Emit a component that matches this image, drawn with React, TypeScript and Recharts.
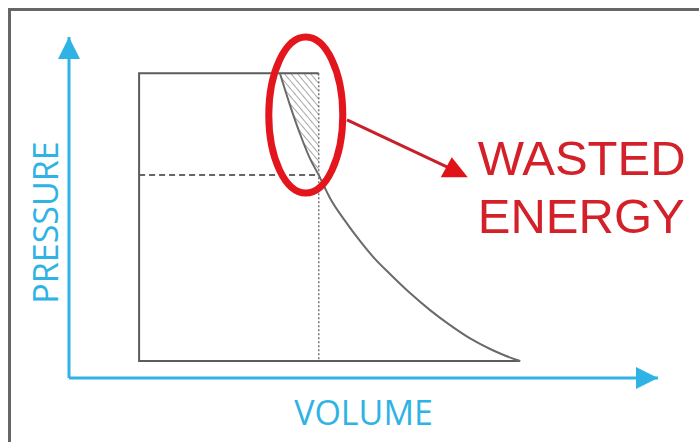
import React from 'react';
import { ComposedChart, XAxis, YAxis, Line, Area, ReferenceDot, ReferenceLine } from 'recharts';

// expansion curve (volume / pressure on a 0-100 scale)
const curveVolume = [35.8, 37.5, 39.2, 40.9, 42.4, 44.3, 46.9, 49.4, 51.9, 54.5, 57.9, 61.3, 64.7, 68.1, 71.5, 74.0, 76.6];
const curvePressure = [89.4, 80.1, 71.7, 64.4, 59.5, 52.8, 46.0, 40.2, 35.0, 30.5, 24.9, 19.9, 15.5, 11.6, 8.5, 6.6, 5.0];

// rest of the cycle outline: top, left side, bottom
const outlineVolume = [42.4, 11.9, 11.9, 76.6];
const outlinePressure = [89.4, 89.4, 5.0, 5.0];

const cutoffVolume = 42.4;
const cutoffPressure = 59.5;
const topPressure = 89.4;
const startVolume = 11.9;
const bottomPressure = 5.0;

const xLabel = 'VOLUME';
const yLabel = 'PRESSURE';
const annotationLines = ['WASTED', 'ENERGY'];

const CYAN = '#2fb3e4';
const RED = '#d42029';
const GRAY = '#5c5c5c';

const curveData = curveVolume.map((v, i) => ({ v, p: curvePressure[i] }));
const outlineData = outlineVolume.map((v, i) => ({ v, p: outlinePressure[i] }));
const hatchData = curveData.filter((d) => d.v <= cutoffVolume).map((d) => ({ v: d.v, band: [d.p, topPressure] }));
const dashedData = [{ v: startVolume, p: cutoffPressure }, { v: cutoffVolume, p: cutoffPressure }];
const dottedData = [{ v: cutoffVolume, p: topPressure }, { v: cutoffVolume, p: bottomPressure }];

const XLabel = ({ viewBox }: any) => (
  <text x={viewBox.x + viewBox.width / 2} y={viewBox.y + 47} textAnchor="middle" fill={CYAN}
    style={{ fontFamily: '"Open Sans"', fontSize: 34 }}>{xLabel}</text>
);

const YLabel = ({ viewBox }: any) => {
  const cx = 45;
  const cy = viewBox.y + viewBox.height / 2 + 15;
  return (
    <text x={cx} y={cy} textAnchor="middle" dominantBaseline="central" fill={CYAN}
      transform={`rotate(-90 ${cx} ${cy})`} style={{ fontFamily: '"Open Sans"', fontSize: 34 }}>{yLabel}</text>
  );
};

const Arrow = ({ x1, y1, x2, y2 }: any) => (
  <g>
    <line x1={x1} y1={y1} x2={x2 - 14} y2={y2 - 7} stroke="#c8202a" strokeWidth={3} />
    <polygon points={`${x2},${y2} ${x2 - 27},${y2} ${x2 - 16},${y2 - 20}`} fill="#e01218" />
  </g>
);

export default function App() {
  return (
    <div style={{ position: 'absolute', left: 0, top: 0, width: 699, height: 442, overflow: 'hidden', background: '#fff' }}>
      <div style={{ position: 'absolute', left: 8, top: 8, right: 0, bottom: 0, borderTop: '3px solid #666', borderLeft: '3px solid #666' }} />
      <div style={{ position: 'absolute', left: 0, top: 0 }}>
        <ComposedChart width={699} height={442} margin={{ top: 37, right: 41, bottom: 0, left: 0 }}>
          <defs>
            <marker id="axisArrow" viewBox="0 0 22 22" refX={22} refY={11} markerWidth={22} markerHeight={22}
              markerUnits="userSpaceOnUse" orient="auto-start-reverse">
              <path d="M0,0 L22,11 L0,22 z" fill={CYAN} />
            </marker>
            <pattern id="hatch" width={5} height={5} patternUnits="userSpaceOnUse" patternTransform="rotate(-40)">
              <line x1={0} y1={0} x2={0} y2={5} stroke="#777" strokeWidth={1.3} />
            </pattern>
          </defs>
          <XAxis dataKey="v" type="number" domain={[0, 100]} height={64} tick={false} tickLine={false}
            axisLine={{ stroke: CYAN, strokeWidth: 3, markerEnd: 'url(#axisArrow)' } as any}
            label={<XLabel />} />
          <YAxis dataKey="p" type="number" domain={[0, 100]} width={69} tick={false} tickLine={false}
            axisLine={{ stroke: CYAN, strokeWidth: 3, markerStart: 'url(#axisArrow)' } as any}
            label={<YLabel />} />
          <Area data={hatchData} dataKey="band" type="monotone" stroke="none" fill="url(#hatch)" fillOpacity={1}
            isAnimationActive={false} activeDot={false} />
          <Line data={dottedData} dataKey="p" type="linear" stroke="#777" strokeWidth={1.5} strokeDasharray="2 2"
            dot={false} activeDot={false} isAnimationActive={false} />
          <Line data={dashedData} dataKey="p" type="linear" stroke="#666" strokeWidth={2} strokeDasharray="6 4"
            dot={false} activeDot={false} isAnimationActive={false} />
          <Line data={outlineData} dataKey="p" type="linear" stroke={GRAY} strokeWidth={2}
            dot={false} activeDot={false} isAnimationActive={false} />
          <Line data={curveData} dataKey="p" type="monotone" stroke="#6a6a6a" strokeWidth={2}
            dot={false} activeDot={false} isAnimationActive={false} />
          <ReferenceDot x={40.2} y={77.1} r={0}
            shape={({ cx, cy }: any) => <ellipse cx={cx} cy={cy} rx={37} ry={78} fill="none" stroke="#e3161d" strokeWidth={7} />} />
          <ReferenceLine segment={[{ x: 47.2, y: 75.7 }, { x: 67.7, y: 58.9 }]} shape={<Arrow />} />
          <ReferenceDot x={69.4} y={59.5} r={0}
            shape={({ cx, cy }: any) => (
              <text x={cx} y={cy} fill={RED} style={{ fontFamily: '"Liberation Sans"', fontSize: 49 }}>
                {annotationLines.map((t, i) => (
                  <tspan key={t} x={cx} dy={i === 0 ? 0 : 58}>{t}</tspan>
                ))}
              </text>
            )} />
        </ComposedChart>
      </div>
    </div>
  );
}
